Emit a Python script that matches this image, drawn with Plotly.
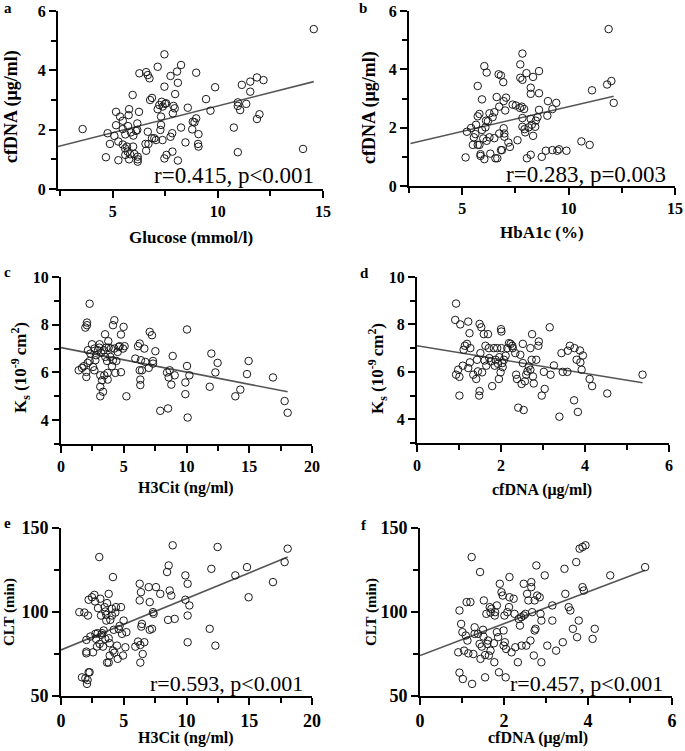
import plotly.graph_objects as go

# ---------------- data ----------------
# a: cfDNA vs Glucose
a_x = [3.57, 4.68, 4.76, 4.87, 5.16, 5.08, 5.16, 5.27, 5.27, 5.35, 5.48, 5.48, 5.48, 5.59, 5.6, 5.6,
       5.68, 5.71, 5.78, 5.76, 5.73, 5.78, 5.83, 5.87, 5.95, 5.98, 5.97, 6.03, 6.11, 6.17, 6.17, 6.19,
       6.19, 6.19, 6.25, 6.27, 6.56, 6.59, 6.59, 6.67, 6.75, 6.67, 6.7, 6.78, 6.87, 6.87, 6.98, 7.06,
       7.14, 7.14, 7.22, 7.27, 7.3, 7.3, 7.33, 7.37, 7.38, 7.46, 7.46, 7.46, 7.49, 7.54, 7.56, 7.75,
       7.75, 7.83, 7.84, 7.86, 7.89, 7.95, 7.97, 8.06, 8.1, 8.1, 8.25, 8.25, 8.46, 8.57, 8.78, 8.81,
       8.89, 8.97, 8.97, 9.08, 9.06, 9.08, 9.44, 9.65, 9.87, 10.76, 10.95, 10.95, 10.95, 11.06, 11.14,
       11.35, 11.54, 11.54, 11.86, 11.86, 11.98, 12.17, 14.05, 14.56]
a_y = [2.02, 1.07, 1.88, 1.52, 2.6, 1.79, 2.15, 0.97, 1.6, 2.44, 2.3, 2.02, 1.5, 1.37, 1.15, 1.84,
       1.43, 1.26, 2.69, 2.49, 2.12, 1.0, 1.17, 1.91, 3.17, 1.8, 1.43, 1.18, 1.96, 2.21, 1.99, 1.09,
       1.0, 0.92, 2.6, 3.9, 1.52, 1.29, 3.94, 3.84, 3.73, 1.93, 1.52, 3.0, 3.07, 1.71, 1.71, 1.65,
       4.12, 2.69, 2.83, 1.99, 2.44, 2.16, 2.94, 1.65, 2.78, 4.54, 3.45, 1.03, 2.87, 2.89, 1.15, 1.76,
       3.81, 1.88, 1.26, 2.55, 2.8, 2.72, 3.2, 3.96, 3.58, 0.96, 4.18, 2.07, 1.57, 2.74, 2.01, 2.27,
       2.25, 3.92, 2.38, 1.85, 1.52, 1.43, 3.03, 2.64, 3.43, 2.07, 2.92, 2.8, 1.24, 2.66, 3.51,
       2.87, 3.62, 3.28, 3.76, 2.36, 2.52, 3.67, 1.35, 5.39]
a_fit_x = [2.4, 14.56]
a_fit_y = [1.43, 3.62]

# b: cfDNA vs HbA1c
b_x = [5.16, 5.22, 5.42, 5.5, 5.55, 5.62, 5.65, 5.73, 5.73, 5.81, 5.73, 5.81, 5.86, 5.86, 5.93, 5.93,
       5.99, 6.04, 6.04, 6.09, 6.12, 6.15, 6.15, 6.21, 6.28, 6.28, 6.32, 6.43, 6.51, 6.51, 6.56, 6.62,
       6.65, 6.71, 6.74, 6.74, 6.82, 6.82, 6.87, 6.93, 6.95, 6.95, 6.98, 6.98, 7.02, 7.06, 7.17, 7.24,
       7.37, 7.52, 7.6, 7.71, 7.73, 7.73, 7.8, 7.83, 7.83, 7.83, 7.83, 7.91, 7.93, 7.96, 8.02, 8.04,
       8.12, 8.22, 8.22, 8.22, 8.22, 8.27, 8.33, 8.33, 8.43, 8.46, 8.54, 8.61, 8.61, 8.61, 8.74, 8.93,
       9.0, 9.03, 9.24, 9.24, 9.42, 9.47, 9.55, 9.9, 10.6, 10.99, 11.1, 11.81, 12.01, 12.12, 11.88]
b_y = [0.98, 1.86, 1.99, 1.41, 1.67, 1.78, 2.1, 3.43, 2.39, 2.47, 1.41, 1.41, 1.09, 1.03, 2.97, 1.92,
       1.63, 4.11, 0.92, 2.01, 2.24, 3.89, 1.55, 2.22, 2.49, 1.67, 1.11, 2.36, 2.53, 1.64, 0.95, 3.05,
       0.95, 3.83, 2.72, 1.8, 3.79, 1.23, 1.23, 3.56, 2.91, 1.98, 1.69, 1.8, 2.59, 3.03, 1.49, 1.34,
       2.79, 2.76, 1.57, 2.68, 4.17, 3.71, 2.72, 4.54, 3.64, 2.33, 2.03, 2.64, 1.95, 1.84, 3.87, 0.95,
       2.01, 3.37, 3.16, 2.3, 1.07, 2.1, 1.72, 3.74, 2.03, 2.24, 2.36, 3.18, 3.94, 2.61, 1.0, 1.21,
       2.41, 2.91, 1.23, 2.64, 2.85, 1.21, 1.26, 1.21, 1.53, 1.41, 3.28, 3.48, 3.6, 2.85, 5.38]
b_fit_x = [2.57, 12.12]
b_fit_y = [1.46, 3.08]

# c: Ks vs H3Cit
c_x = [1.41, 1.67, 1.81, 1.94, 2.07, 2.07, 2.02, 2.02, 2.12, 2.15, 2.28, 2.28, 2.34, 2.47, 2.55, 2.66,
       2.66, 2.74, 2.79, 2.95, 3.05, 3.08, 3.13, 3.13, 3.13, 3.19, 3.27, 3.35, 3.4, 3.45, 3.51, 3.53,
       3.61, 3.67, 3.72, 3.72, 3.77, 3.8, 3.93, 3.98, 4.06, 4.14, 4.25, 4.14, 4.25, 4.33, 4.41, 4.52,
       4.6, 4.67, 4.78, 4.78, 4.94, 4.99, 5.07, 5.21, 5.92, 6.14, 6.27, 6.27, 6.32, 6.32, 6.37, 6.45,
       6.64, 6.72, 6.99, 7.07, 7.25, 7.33, 7.33, 7.52, 7.91, 8.53, 8.45, 8.58, 8.66, 8.79, 8.9, 9.06,
       9.91, 9.91, 10.04, 10.09, 10.04, 10.23, 11.85, 11.98, 12.3, 12.48, 13.89, 14.29, 14.82, 14.95,
       16.89, 17.82, 18.06]
c_y = [6.09, 6.19, 6.26, 7.88, 8.09, 7.98, 6.02, 5.81, 6.4, 6.93, 8.88, 6.48, 6.79, 7.18, 6.23, 7.0,
       6.09, 6.51, 6.72, 6.93, 7.04, 7.18, 5.88, 5.4, 5.0, 6.82, 5.67, 5.19, 6.93, 5.88, 7.6, 6.65,
       7.04, 6.48, 5.98, 5.7, 7.31, 7.04, 6.65, 7.0, 6.26, 7.98, 8.19, 6.51, 7.0, 5.98, 6.48, 6.86,
       7.07, 7.1, 7.59, 6.01, 7.0, 7.91, 7.1, 5.0, 6.58, 7.1, 7.21, 6.09, 5.47, 5.7, 6.51, 6.09,
       7.0, 6.44, 6.19, 7.7, 7.56, 6.48, 6.37, 6.89, 4.39, 4.49, 6.0, 5.79, 6.09, 5.49, 6.69, 5.88,
       5.58, 5.09, 6.27, 4.11, 7.8, 5.88, 5.4, 6.79, 6.0, 6.4, 5.0, 5.28, 5.93, 6.48,
       5.79, 4.8, 4.31]
c_fit_x = [0, 18.06]
c_fit_y = [7.04, 5.19]

# d: Ks vs cfDNA
d_x = [0.93, 0.91, 0.93, 0.98, 1.01, 1.03, 1.01, 1.09, 1.11, 1.14, 1.19, 1.22, 1.22, 1.25, 1.27, 1.26,
       1.34, 1.41, 1.43, 1.45, 1.48, 1.49, 1.49, 1.51, 1.53, 1.55, 1.59, 1.61, 1.63, 1.65, 1.69, 1.71,
       1.72, 1.76, 1.79, 1.83, 1.85, 1.87, 1.91, 1.93, 1.95, 1.96, 1.99, 2.0, 2.01, 2.01, 2.03, 2.04,
       2.07, 2.11, 2.15, 2.19, 2.23, 2.27, 2.28, 2.34, 2.36, 2.38, 2.41, 2.46, 2.49, 2.52, 2.54, 2.52,
       2.57, 2.6, 2.63, 2.66, 2.7, 2.7, 2.74, 2.73, 2.76, 2.78, 2.84, 2.89, 2.9, 2.97, 3.02, 3.04,
       3.16, 3.18, 3.26, 3.39, 3.44, 3.47, 3.58, 3.59, 3.64, 3.74, 3.75, 3.8, 3.83, 3.88, 3.89, 3.92,
       3.95, 4.11, 4.17, 4.53, 5.37]
d_y = [8.88, 8.19, 5.88, 6.09, 5.0, 8.0, 5.79, 6.26, 6.93, 7.1, 7.18, 8.12, 6.16, 7.63, 7.0, 6.4,
       5.88, 5.7, 6.51, 6.02, 5.0, 5.19, 8.02, 6.79, 7.88, 5.98, 7.59, 6.48, 7.1, 6.26, 7.59, 7.0,
       6.58, 6.44, 5.4, 7.0, 6.26, 6.51, 7.0, 6.34, 5.7, 6.62, 5.98, 7.8, 7.7, 7.0, 6.37, 6.2,
       6.51, 6.68, 7.0, 7.21, 7.18, 7.1, 7.0, 6.79, 5.88, 5.7, 4.49, 6.72, 5.49, 6.37, 4.39, 7.18,
       5.6, 5.88, 6.02, 6.23, 6.09, 7.0, 7.59, 6.51, 5.81, 5.51, 6.51, 7.1, 7.28, 5.0, 6.0, 5.28,
       7.88, 5.88, 6.27, 4.11, 6.79, 6.0, 6.0, 6.89, 7.1, 4.8, 7.0, 6.51, 4.31, 6.9, 6.4, 6.09,
       6.69, 5.7, 5.4, 5.09, 5.88]
d_fit_x = [0, 5.37]
d_fit_y = [7.1, 5.54]

# e: CLT vs H3Cit
e_x = [1.46, 1.67, 1.86, 1.94, 2.02, 2.02, 2.02, 2.07, 2.12, 2.15, 2.2, 2.2, 2.28, 2.34, 2.47, 2.55,
       2.66, 2.71, 2.74, 2.79, 2.87, 2.92, 2.95, 3.05, 3.08, 3.13, 3.19, 3.21, 3.27, 3.35, 3.4, 3.48,
       3.53, 3.53, 3.61, 3.61, 3.67, 3.67, 3.8, 3.8, 3.8, 3.88, 3.88, 3.93, 4.06, 4.06, 4.14, 4.14,
       4.2, 4.25, 4.33, 4.38, 4.46, 4.52, 4.6, 4.67, 4.78, 4.86, 4.94, 4.99, 5.13, 5.21, 5.92, 6.14,
       6.27, 6.27, 6.32, 6.32, 6.37, 6.4, 6.45, 6.51, 6.64, 6.99, 7.07, 7.07, 7.25, 7.33, 7.38, 7.57,
       7.91, 8.45, 8.53, 8.58, 8.66, 8.79, 8.9, 9.06, 9.91, 9.91, 10.09, 10.09, 10.09, 10.23, 11.85,
       11.98, 12.3, 12.48, 13.89, 14.82, 14.95, 16.89, 17.82, 18.06]
e_y = [99.9, 61.1, 99.7, 60.5, 83.4, 75.4, 76.4, 57.2, 59.5, 97.9, 107.3, 64.1, 64.1, 85.4, 108.8, 76.0,
       110.2, 106.3, 87.0, 84.0, 79.4, 87.4, 102.3, 132.7, 81.0, 107.9, 97.9, 86.4, 87.4, 79.4, 89.0, 102.9,
       100.3, 84.0, 98.3, 94.9, 105.3, 69.9, 110.8, 69.9, 84.4, 81.4, 74.1, 95.3, 101.9, 97.9, 120.8, 77.0,
       89.4, 75.8, 99.7, 102.9, 80.0, 72.1, 89.8, 91.7, 102.9, 87.0, 74.1, 94.9, 79.0, 88.0, 79.4, 82.4,
       116.8, 106.9, 80.4, 69.9, 111.8, 91.3, 92.9, 75.0, 82.0, 114.8, 105.9, 89.4, 90.0, 99.9, 98.9, 114.8,
       110.8, 123.8, 95.3, 127.7, 112.8, 109.8, 139.7, 95.9, 121.8, 107.3, 116.8, 97.9, 82.0, 103.9, 90.0,
       125.7, 80.0, 138.7, 121.8, 126.7, 108.8, 117.8, 129.7, 137.7]
e_fit_x = [0, 18.06]
e_fit_y = [77.4, 132.7]

# f: CLT vs cfDNA
f_x = [0.91, 0.94, 0.94, 0.98, 1.01, 1.02, 1.05, 1.09, 1.11, 1.13, 1.15, 1.2, 1.23, 1.24, 1.27, 1.3,
       1.3, 1.38, 1.42, 1.43, 1.44, 1.47, 1.5, 1.51, 1.52, 1.55, 1.55, 1.58, 1.6, 1.62, 1.64, 1.66,
       1.68, 1.68, 1.7, 1.76, 1.77, 1.78, 1.79, 1.83, 1.83, 1.86, 1.88, 1.9, 1.94, 1.97, 1.99, 1.99,
       2.01, 2.02, 2.04, 2.05, 2.08, 2.12, 2.13, 2.13, 2.18, 2.23, 2.25, 2.27, 2.33, 2.35, 2.38, 2.41,
       2.42, 2.47, 2.47, 2.51, 2.53, 2.55, 2.58, 2.63, 2.65, 2.65, 2.67, 2.71, 2.73, 2.73, 2.75, 2.77,
       2.79, 2.85, 2.87, 2.89, 2.89, 2.97, 3.03, 3.15, 3.15, 3.24, 3.4, 3.44, 3.46, 3.54, 3.58, 3.64,
       3.72, 3.74, 3.78, 3.8, 3.87, 3.87, 3.9, 3.94, 4.11, 4.16, 4.53, 5.36]
f_y = [76.0, 100.9, 63.9, 92.9, 88.0, 60.1, 77.0, 86.0, 105.9, 83.0, 75.4, 105.9, 132.7, 57.2, 75.0, 90.9,
       87.0, 87.0, 81.0, 123.8, 72.1, 79.4, 89.4, 85.4, 106.9, 74.4, 61.1, 98.9, 81.0, 83.0, 74.1, 102.9,
       77.0, 99.7, 101.9, 81.4, 70.1, 97.9, 99.9, 88.0, 103.9, 85.0, 64.1, 116.8, 111.8, 109.8, 80.0, 89.0,
       97.9, 82.0, 61.1, 78.0, 99.9, 102.9, 120.8, 108.8, 76.0, 107.9, 98.9, 79.0, 70.1, 95.9, 91.9, 96.9,
       80.0, 116.8, 97.9, 98.9, 80.0, 110.8, 106.9, 83.0, 114.8, 117.8, 99.9, 74.1, 106.9, 89.0, 90.0, 127.7,
       109.8, 108.8, 98.9, 94.9, 70.1, 121.8, 80.0, 103.9, 94.9, 77.0, 82.0, 125.7, 110.8, 102.9, 100.9, 90.0,
       129.7, 85.0, 94.9, 137.7, 138.7, 114.8, 112.8, 139.7, 84.0, 90.0, 121.8, 126.7]
f_fit_x = [0, 5.36]
f_fit_y = [74.1, 124.8]

# tick values
a_xticks = [5, 10, 15]
a_yticks = [0, 2, 4, 6]
b_xticks = [5, 10, 15]
b_yticks = [0, 2, 4, 6]
c_xticks = [0, 5, 10, 15, 20]
c_yticks = [4, 6, 8, 10]
d_xticks = [0, 2, 4, 6]
d_yticks = [4, 6, 8, 10]
e_xticks = [0, 5, 10, 15, 20]
e_yticks = [50, 100, 150]
f_xticks = [0, 2, 4, 6]
f_yticks = [50, 100, 150]

stats_text = ["r=0.415, p<0.001", "r=0.283, p=0.003", "r= - 0.431, p<0.001",
              "r= - 0.311, p<0.001", "r=0.593, p<0.001", "r=0.457, p<0.001"]
panel_labels = ["a", "b", "c", "d", "e", "f"]
x_titles = ["Glucose (mmol/l)", "HbA1c (%)", "H3Cit (ng/ml)", "cfDNA (μg/ml)", "H3Cit (ng/ml)", "cfDNA (μg/ml)"]
ks_title = "K<sub>s</sub> (10<sup>-9 </sup>cm<sup>2</sup>)"
y_titles = ["cfDNA (μg/ml)", "cfDNA (μg/ml)", ks_title, ks_title, "CLT (min)", "CLT (min)"]

# ---------------- layout config ----------------
W, H = 685, 751
FONT = "Liberation Serif, Times New Roman, serif"

panels = [
    dict(x=a_x, y=a_y, fx=a_fit_x, fy=a_fit_y, xt_v=a_xticks, yt_v=a_yticks,
         xd=(58, 323), yd=(11, 189), xr=[2.4, 15], yr=[0, 6],
         xmin=2.5, ymin=1, tf=16, stat=(14.65, 0.45), sfs=23,
         lab=(8, 8), xt=(191, 238, 17), yt=(12, 107, 18)),
    dict(x=b_x, y=b_y, fx=b_fit_x, fy=b_fit_y, xt_v=b_xticks, yt_v=b_yticks,
         xd=(409, 675), yd=(11, 186), xr=[2.5, 15], yr=[0, 6],
         xmin=2.5, ymin=1, tf=16, stat=(14.69, 0.38), sfs=23,
         lab=(363, 8), xt=(542, 233, 17), yt=(370, 108, 18)),
    dict(x=c_x, y=c_y, fx=c_fit_x, fy=c_fit_y, xt_v=c_xticks, yt_v=c_yticks,
         xd=(61, 312), yd=(277, 444), xr=[0, 20], yr=[3, 10],
         xmin=2.5, ymin=1, tf=16, stat=(20.9, 3.48), sfs=22,
         lab=(8, 272), xt=(186, 488, 16), yt=(20, 368, 17)),
    dict(x=d_x, y=d_y, fx=d_fit_x, fy=d_fit_y, xt_v=d_xticks, yt_v=d_yticks,
         xd=(417, 669), yd=(277, 443), xr=[0, 6], yr=[3, 10],
         xmin=1, ymin=1, tf=16, stat=(6.08, 3.48), sfs=22,
         lab=(364, 273), xt=(542, 490, 16), yt=(377, 369, 17)),
    dict(x=e_x, y=e_y, fx=e_fit_x, fy=e_fit_y, xt_v=e_xticks, yt_v=e_yticks,
         xd=(61, 312), yd=(528, 696), xr=[0, 20], yr=[50, 150],
         xmin=2.5, ymin=25, tf=18, stat=(19.47, 57.6), sfs=22,
         lab=(8, 523), xt=(186, 738, 16), yt=(9, 612, 15)),
    dict(x=f_x, y=f_y, fx=f_fit_x, fy=f_fit_y, xt_v=f_xticks, yt_v=f_yticks,
         xd=(420, 672), yd=(528, 696), xr=[0, 6], yr=[50, 150],
         xmin=1, ymin=25, tf=18, stat=(5.84, 57.6), sfs=22,
         lab=(364, 525), xt=(538, 738, 16), yt=(371, 612, 15)),
]

fig = go.Figure()
layout = dict(width=W, height=H, margin=dict(l=0, r=0, t=0, b=0, pad=0, autoexpand=False),
              paper_bgcolor="white", plot_bgcolor="white", showlegend=False,
              font=dict(family=FONT, color="black"))
annotations = []

for i, p in enumerate(panels):
    n = i + 1
    xa = "x" if n == 1 else f"x{n}"
    ya = "y" if n == 1 else f"y{n}"
    xkey = "xaxis" if n == 1 else f"xaxis{n}"
    ykey = "yaxis" if n == 1 else f"yaxis{n}"

    fig.add_trace(go.Scatter(x=p["fx"], y=p["fy"], mode="lines", xaxis=xa, yaxis=ya,
                             line=dict(color="#555555", width=1.6), hoverinfo="skip"))
    fig.add_trace(go.Scatter(x=p["x"], y=p["y"], mode="markers", xaxis=xa, yaxis=ya,
                             marker=dict(symbol="circle-open", size=7.5, color="#1a1a1a",
                                         line=dict(width=1, color="#1a1a1a"))))

    common = dict(showgrid=False, zeroline=False, showline=True, linecolor="black", linewidth=2,
                  ticks="outside", ticklen=7, tickwidth=1.6, tickcolor="black",
                  tickfont=dict(family=FONT, size=p["tf"], color="black"),
                  automargin=False, fixedrange=True)
    minor = dict(ticks="outside", ticklen=5, tickwidth=1.6, tickcolor="black", tickmode="linear", tick0=0)
    layout[xkey] = dict(common, domain=[p["xd"][0] / W, p["xd"][1] / W], range=p["xr"],
                        anchor=ya, tickmode="array", tickvals=p["xt_v"],
                        ticktext=[f"<b>{v}</b>" for v in p["xt_v"]],
                        minor=dict(minor, dtick=p["xmin"]))
    layout[ykey] = dict(common, domain=[1 - p["yd"][1] / H, 1 - p["yd"][0] / H], range=p["yr"],
                        anchor=xa, tickmode="array", tickvals=p["yt_v"],
                        ticktext=[f"<b>{v}</b>" for v in p["yt_v"]],
                        minor=dict(minor, dtick=p["ymin"]))

    annotations.append(dict(xref=xa, yref=ya, x=p["stat"][0], y=p["stat"][1], text=stats_text[i],
                            showarrow=False, xanchor="right", yanchor="middle",
                            font=dict(family=FONT, size=p["sfs"], color="black")))
    annotations.append(dict(xref="paper", yref="paper", x=p["lab"][0] / W, y=1 - p["lab"][1] / H,
                            text=f"<b>{panel_labels[i]}</b>", showarrow=False,
                            xanchor="center", yanchor="middle",
                            font=dict(family=FONT, size=15, color="black")))
    annotations.append(dict(xref="paper", yref="paper", x=p["xt"][0] / W, y=1 - p["xt"][1] / H,
                            text=f"<b>{x_titles[i]}</b>", showarrow=False,
                            xanchor="center", yanchor="middle",
                            font=dict(family=FONT, size=p["xt"][2], color="black")))
    annotations.append(dict(xref="paper", yref="paper", x=p["yt"][0] / W, y=1 - p["yt"][1] / H,
                            text=f"<b>{y_titles[i]}</b>", showarrow=False, textangle=-90,
                            xanchor="center", yanchor="middle",
                            font=dict(family=FONT, size=p["yt"][2], color="black")))

layout["annotations"] = annotations
fig.update_layout(**layout)
fig.write_html("out.html", config={"displayModeBar": False, "responsive": False},
               post_script="document.body.style.margin='0px';document.body.style.overflow='hidden';")
